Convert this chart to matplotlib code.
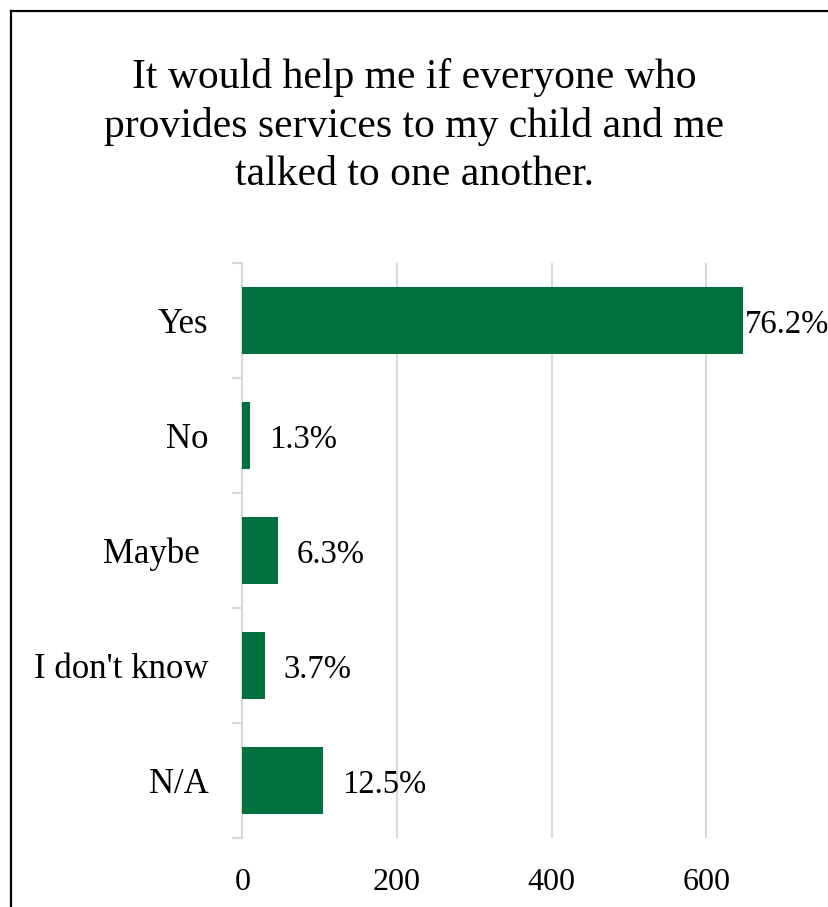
import numpy as np
import matplotlib.pyplot as plt
from matplotlib.lines import Line2D

plt.rcParams['font.family'] = ['Liberation Serif', 'DejaVu Serif']

# data
categories = ["Yes", "No", "Maybe ", "I don't know", "N/A"]
counts = [647, 10, 46, 29, 104]
pct_labels = [76.2, 1.3, 6.3, 3.7, 12.5]
x_ticks = [0, 200, 400, 600]
title = "It would help me if everyone who\nprovides services to my child and me\ntalked to one another."

bar_color = "#00703C"
grid_color = "#D9D9D9"

W, H = 829, 907
fig = plt.figure(figsize=(W / 100, H / 100), dpi=100)

# axes placed in pixel terms: 0 at x=242.5, plot area y 263..838
x0, y_top, y_bot = 242.5, 263, 838.3
px_per_unit = 0.773
ax = fig.add_axes([x0 / W, (H - y_bot) / H, (W - x0) / W, (y_bot - y_top) / H])

y = np.arange(len(categories))
ax.barh(y, counts, height=0.58, color=bar_color, zorder=3)
ax.set_xlim(0, (W - x0) / px_per_unit)
ax.set_ylim(len(categories) - 0.5, -0.5)

ax.set_xticks(x_ticks)
ax.set_xticklabels([str(t) for t in x_ticks], fontsize=23)
ax.tick_params(axis='x', length=0, pad=21.5)
ax.xaxis.grid(True, color=grid_color, linewidth=1.5, zorder=0)

ax.set_yticks(y)
ax.set_yticklabels(categories, fontsize=25)
ax.set_yticks(np.arange(len(categories) + 1) - 0.5, minor=True)
ax.tick_params(axis='y', which='major', length=0, pad=24.5)
ax.tick_params(axis='y', which='minor', length=7.2, width=1.5, color=grid_color)

for s in ['top', 'right', 'bottom']:
    ax.spines[s].set_visible(False)
ax.spines['left'].set_color(grid_color)
ax.spines['left'].set_linewidth(1.5)

for yi, v, p in zip(y, counts, pct_labels):
    off = 1.5 if v == max(counts) else 13.5
    ax.annotate(f"{p:.1f}%", xy=(v, yi), xytext=(off, -3), textcoords='offset points',
                va='center', ha='left', fontsize=23.5, zorder=4)

fig.text(0.5, 1 - 126 / H, title, ha='center', va='center', fontsize=30, linespacing=1.33)

# chart border (only left and top edges fall inside the crop)
fig.add_artist(Line2D([11 / W, 11 / W], [0, 1 - 11 / H], transform=fig.transFigure, color='black', linewidth=1.6))
fig.add_artist(Line2D([11 / W, 1], [1 - 11 / H, 1 - 11 / H], transform=fig.transFigure, color='black', linewidth=1.6))

fig.savefig("out.png", dpi=100)
